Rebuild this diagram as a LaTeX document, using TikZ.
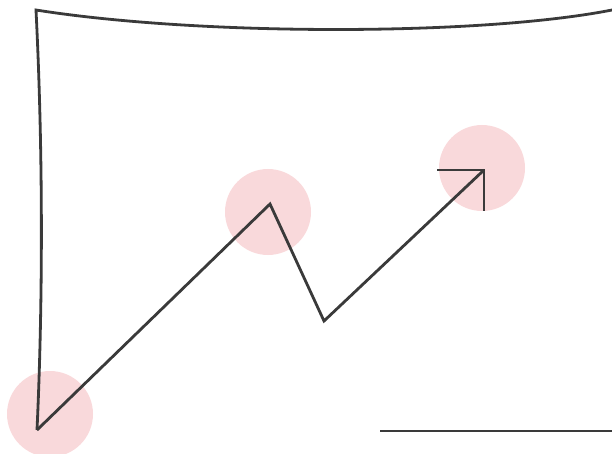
\documentclass[tikz,border=0pt]{standalone}
\usetikzlibrary{positioning}

\definecolor{inkgray}{HTML}{3A3A3A}
\definecolor{softpink}{HTML}{F9D9DB}

\begin{document}
\begin{tikzpicture}[
    x=1pt, y=-1pt,
    stroke/.style={draw=inkgray, line width=2.8pt, line join=miter},
    dot/.style={circle, fill=softpink, minimum size=86pt, inner sep=0pt}
]
\useasboundingbox (0,0) rectangle (612,454);

% -------------------------
% Highlight Dots
% -------------------------
\node[dot] (StartDot) at (50,414) {};
\node[dot] (PeakDot) at (268,212) {};
\node[dot] (EndDot) at (482,168) {};

% -------------------------
% Trend Points
% -------------------------
\coordinate (Corner) at (36,10);
\coordinate (Origin) at (37,430);
\coordinate (Peak) at (270,204);
\coordinate (Dip) at (324,321);
\coordinate (Tip) at (484,170);
\coordinate (TipLeft) at (437,170);
\coordinate (TipDown) at (484,211);
\coordinate (TopEnd) at (612,10);
\coordinate (BaseStart) at (380,431);
\coordinate (BaseEnd) at (612,431);

% -------------------------
% Frame
% -------------------------
\draw[stroke] (TopEnd) .. controls (480,36) and (200,36) .. (Corner)
    .. controls (43,150) and (43,300) .. (Origin);
\draw[stroke] (BaseStart) -- (BaseEnd);

% -------------------------
% Zigzag Arrow
% -------------------------
\draw[stroke] (Origin) -- (Peak) -- (Dip) -- (Tip);
\draw[stroke] (TipLeft) -- (Tip) -- (TipDown);

\end{tikzpicture}
\end{document}
